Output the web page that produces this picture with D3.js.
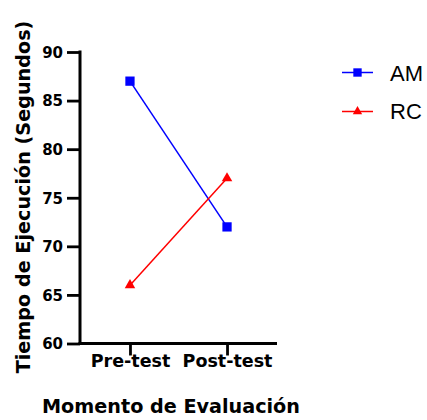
<!DOCTYPE html>
<html><head><meta charset="utf-8">
<script src="https://cdn.jsdelivr.net/npm/d3@7"></script>
<style>body{margin:0;background:#fff}svg{display:block}text{font-family:"DejaVu Sans",sans-serif}</style>
</head><body>
<script>
const categories = ["Pre-test", "Post-test"];
const amValues = [87, 72];
const rcValues = [66, 77];
const yTicks = [60, 65, 70, 75, 80, 85, 90];
const seriesNames = ["AM", "RC"];

const W = 427, H = 420;
const svg = d3.select("body").append("svg").attr("width", W).attr("height", H);
const x0 = 80, x1 = 277, yTop = 52, yBot = 343.5;
const x = d3.scalePoint().domain(categories).range([x0, x1]).padding(0.515);
const y = d3.scaleLinear().domain([60, 90]).range([yBot, yTop]);

// y axis
const ya = svg.append("g").attr("transform", `translate(${x0},0)`)
  .call(d3.axisLeft(y).tickValues(yTicks).tickSize(13).tickPadding(4));
ya.select(".domain").attr("stroke-width", 3).attr("d", `M0,${yTop - 1.5}V${yBot}`);
ya.selectAll(".tick line").attr("stroke-width", 2.8);
ya.selectAll(".tick text").attr("font-size", 15).attr("font-weight", "bold").attr("fill", "#000").attr("dy", "0.36em");

// x axis
const xa = svg.append("g").attr("transform", `translate(0,${yBot})`)
  .call(d3.axisBottom(x).tickSize(12));
xa.select(".domain").attr("stroke-width", 3).attr("d", `M${x0 - 1.5},0H${x1}`);
xa.selectAll(".tick line").attr("stroke-width", 2.8);
xa.selectAll(".tick text").attr("font-size", 17.5).attr("font-weight", "bold").attr("fill", "#000")
  .attr("y", 23.2).attr("dy", null);

// titles
svg.append("text").attr("x", 171).attr("y", 413).attr("text-anchor", "middle")
  .attr("font-size", 19.2).attr("font-weight", "bold").text("Momento de Evaluación");
svg.append("text").attr("transform", `translate(30,197) rotate(-90)`)
  .attr("text-anchor", "middle").attr("font-size", 19.2).attr("font-weight", "bold")
  .text("Tiempo de Ejecución (Segundos)");

const series = [
  {name: seriesNames[0], vals: amValues, color: "#0000ff", shape: d3.symbolSquare, size: 86, lsize: 70},
  {name: seriesNames[1], vals: rcValues, color: "#ff0000", shape: d3.symbolTriangle, size: 48, lsize: 38}
];
const line = d3.line().x((d, i) => x(categories[i])).y(d => y(d));
series.forEach((s, si) => {
  svg.append("path").attr("d", line(s.vals)).attr("fill", "none").attr("stroke", s.color).attr("stroke-width", 1.5);
  s.vals.forEach((v, i) => {
    svg.append("path").attr("d", d3.symbol().type(s.shape).size(s.size)())
      .attr("transform", `translate(${x(categories[i])},${y(v)})`).attr("fill", s.color);
  });
  const ly = si === 0 ? 72.5 : 111.5;
  svg.append("line").attr("x1", 342).attr("x2", 373).attr("y1", ly).attr("y2", ly)
    .attr("stroke", s.color).attr("stroke-width", 1.5);
  svg.append("path").attr("d", d3.symbol().type(s.shape).size(s.lsize)())
    .attr("transform", `translate(357.5,${ly})`).attr("fill", s.color);
  svg.append("text").attr("x", 390).attr("y", si === 0 ? 81 : 118.5)
    .style("font-family", '"Liberation Sans",Arial,sans-serif').attr("font-size", 22).text(s.name);
});
</script>
</body></html>
